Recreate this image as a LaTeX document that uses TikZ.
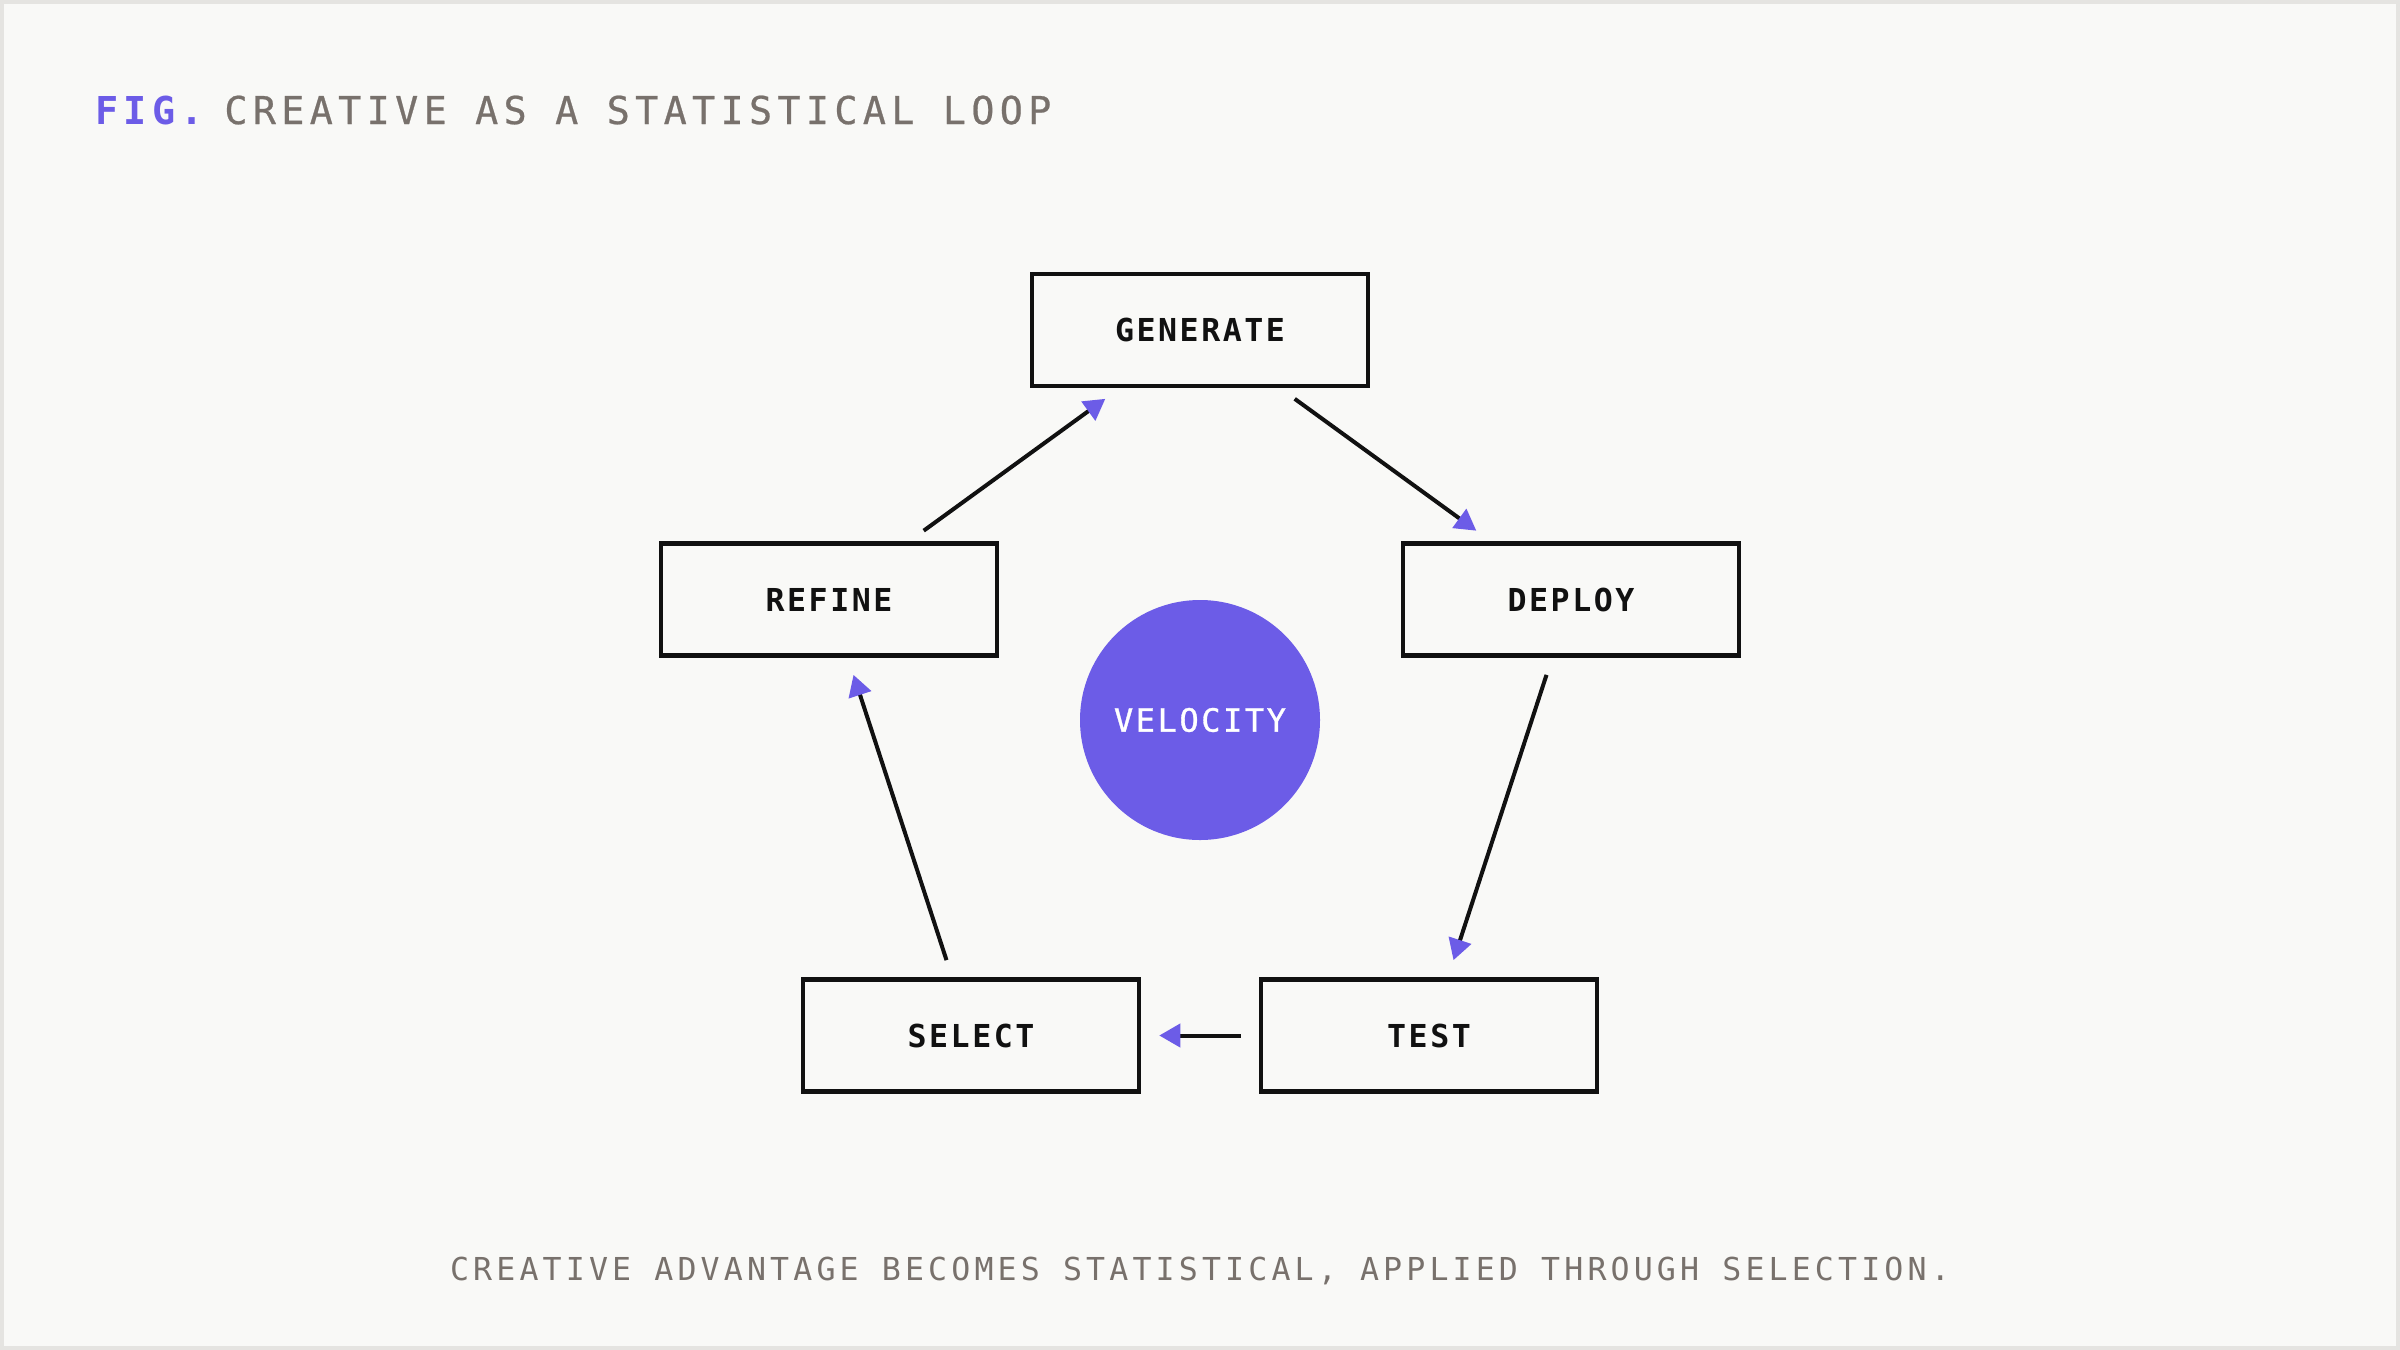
\documentclass[tikz,border=0pt]{standalone}
\usepackage{fontspec}
\usetikzlibrary{arrows.meta}
\definecolor{bgc}{HTML}{F9F9F7}
\definecolor{framec}{HTML}{E5E4E1}
\definecolor{accent}{HTML}{6C5CE7}
\definecolor{greytext}{HTML}{78716C}
\definecolor{ink}{HTML}{111111}
\newfontfamily\titlefont[LetterSpace=13.9, FakeBold=0.6]{DejaVu Sans Mono}
\newfontfamily\figfont[LetterSpace=13.9]{DejaVu Sans Mono Bold}
\newfontfamily\capfont[LetterSpace=13.1]{DejaVu Sans Mono}
\newfontfamily\boxfont[LetterSpace=8]{DejaVu Sans Mono Bold}
\newfontfamily\velfont[LetterSpace=8, FakeBold=1]{DejaVu Sans Mono}
\tikzset{
  stagebox/.style={draw=ink, line width=2.25pt, fill=bgc, minimum width=168pt, minimum height=56pt, inner sep=0pt,
    font=\boxfont\fontsize{15.8pt}{18pt}\selectfont, text=ink},
  flow/.style={draw=ink, line width=2pt, shorten <=9pt, shorten >=9pt,
    -{Triangle[length=10.5pt, width=11.5pt, color=accent]}},
  titletext/.style={anchor=base west, inner sep=0pt, font=\titlefont\fontsize{19.2pt}{22pt}\selectfont},
  captext/.style={anchor=base, inner sep=0pt, font=\capfont\fontsize{15.8pt}{18pt}\selectfont, text=greytext}
}
\begin{document}
\begin{tikzpicture}[x=0.5pt, y=-0.5pt]
\useasboundingbox (0,0) rectangle (2400,1350);
\fill[bgc] (0,0) rectangle (2400,1350);
\draw[framec, line width=2pt] (2,2) rectangle (2398,1348);
% title
\node[titletext, text=accent, font=\figfont\fontsize{19.2pt}{22pt}\selectfont] (figlbl) at (95,124) {FIG.};
\node[titletext, text=greytext] (title) at (224,124) {CREATIVE AS A STATISTICAL LOOP};
% centre
\node[circle, fill=accent, minimum size=120pt, inner sep=0pt, text=white,
  font=\velfont\fontsize{16pt}{18pt}\selectfont] (vel) at (1200,720) {VELOCITY};
% stages
\node[stagebox] (gen) at (1200,330) {GENERATE};
\node[stagebox] (dep) at (1571,599.5) {DEPLOY};
\node[stagebox] (tst) at (1429,1035.5) {TEST};
\node[stagebox] (sel) at (971,1035.5) {SELECT};
\node[stagebox] (ref) at (829,599.5) {REFINE};
% connectors
\draw[flow] (gen) -- (dep);
\draw[flow] (dep) -- (tst);
\draw[flow] (tst) -- (sel);
\draw[flow] (sel) -- (ref);
\draw[flow] (ref) -- (gen);
% caption
\node[captext] (cap) at (1200,1280) {CREATIVE ADVANTAGE BECOMES STATISTICAL, APPLIED THROUGH SELECTION.};
\end{tikzpicture}
\end{document}
